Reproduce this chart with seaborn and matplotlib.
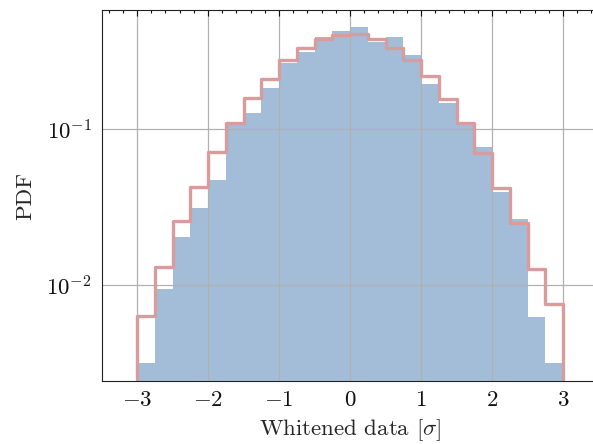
import numpy as np
import pandas as pd
import matplotlib
matplotlib.use("Agg")
import matplotlib.pyplot as plt
from matplotlib.ticker import MultipleLocator, AutoMinorLocator
import seaborn as sns

# Histogram bin edges (width 0.25 sigma)
bin_edges = [-3.0 + 0.25 * i for i in range(25)]
bin_centers = [0.5 * (a + b) for a, b in zip(bin_edges[:-1], bin_edges[1:])]

# Empirical density of the whitened data
data_pdf = [0.00315, 0.00938, 0.0204, 0.0310, 0.0471, 0.106, 0.126, 0.184,
            0.264, 0.313, 0.387, 0.427, 0.453, 0.363, 0.391, 0.298,
            0.193, 0.146, 0.108, 0.0770, 0.0396, 0.0264, 0.00626, 0.00315]

# Reference standard-normal density per bin
normal_pdf = [0.00636, 0.0130, 0.0258, 0.0423, 0.0715, 0.110, 0.159, 0.209,
              0.277, 0.329, 0.376, 0.400, 0.405, 0.376, 0.329, 0.277,
              0.219, 0.156, 0.110, 0.0699, 0.0417, 0.0249, 0.0126, 0.00752]

x_ticks = [-3, -2, -1, 0, 1, 2, 3]

df = pd.DataFrame({"x": bin_centers, "data": data_pdf})

# The outline gets one empty bin on each side so the step closes down to the axis
w = bin_edges[1] - bin_edges[0]
outline_edges = [bin_edges[0] - w] + bin_edges + [bin_edges[-1] + w]
outline = pd.DataFrame({
    "x": [bin_centers[0] - w] + bin_centers + [bin_centers[-1] + w],
    "normal": [0.0] + normal_pdf + [0.0],
})

sns.set_theme(style="white")
FS = 16.5
plt.rcParams.update({
    "font.family": ["cmr10", "DejaVu Serif"],
    "mathtext.fontset": "cm",
    "axes.formatter.use_mathtext": True,
    "font.size": FS,
    "axes.labelsize": FS,
    "xtick.labelsize": FS,
    "ytick.labelsize": FS,
    "axes.linewidth": 0.8,
    "axes.edgecolor": "#222222",
    "xtick.direction": "in",
    "ytick.direction": "in",
    "xtick.top": True,
    "ytick.right": True,
    "xtick.major.size": 4.3,
    "ytick.major.size": 4.3,
    "xtick.minor.size": 2.5,
    "ytick.minor.size": 2.5,
    "xtick.major.width": 0.8,
    "ytick.major.width": 0.8,
    "xtick.minor.width": 0.8,
    "ytick.minor.width": 0.8,
    "xtick.minor.visible": True,
    "ytick.minor.visible": True,
    "xtick.color": "#111111",
    "ytick.color": "#111111",
})

fig = plt.figure(figsize=(5.93, 4.44), dpi=100)
ax = fig.add_axes([101.5 / 593, 63 / 444, 497 / 593, 371 / 444])

sns.histplot(data=df, x="x", weights="data", bins=bin_edges, stat="count",
             element="bars", fill=True, color="#a3bdd8", alpha=1.0,
             linewidth=0, ax=ax)
sns.histplot(data=outline, x="x", weights="normal", bins=outline_edges,
             stat="count", element="step", fill=False, color="#d89c9d",
             linewidth=2.4, ax=ax)

ax.set_yscale("log", nonpositive="clip")
ax.set_xlim(-3.5, 3.5)
ax.set_ylim(0.002425, 0.579)
ax.xaxis.set_major_locator(MultipleLocator(1))
ax.xaxis.set_minor_locator(AutoMinorLocator(5))
ax.set_xticks(x_ticks)

ax.set_axisbelow("line")
ax.grid(True, which="major", color="#b0b0b0", linewidth=0.9)

ax.set_xlabel(r"Whitened data [$\sigma$]", fontsize=FS, labelpad=5)
ax.set_ylabel("PDF", fontsize=FS, labelpad=8)
ax.tick_params(axis="both", which="major", pad=7)

fig.savefig("out.png", dpi=100)
